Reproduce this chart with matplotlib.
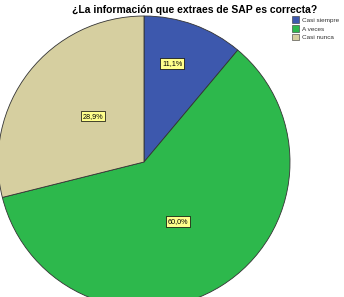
import matplotlib
matplotlib.use("Agg")
import matplotlib.pyplot as plt
import numpy as np

# Respuestas a la pregunta sobre SAP
categories = ['Casi siempre', 'A veces', 'Casi nunca']
percentages = [11.1, 60.0, 28.9]
colors = ['#3d58ad', '#2db84c', '#d6cfa0']

plt.rcParams['font.family'] = ['Liberation Sans', 'DejaVu Sans']

fig = plt.figure(figsize=(3.44, 2.97), dpi=100)
ax = fig.add_axes([0, 0, 1, 1])

wedges, texts, autotexts = ax.pie(
    percentages, colors=colors, startangle=90, counterclock=False,
    radius=1.0, autopct=lambda p: f'{p:.1f}%'.replace('.', ','),
    wedgeprops=dict(edgecolor='#333333', linewidth=0.6),
    textprops=dict(fontsize=5.2, color='black'))

# pie centred at (0, 0) with radius 1; limits map it to the reference pixels
R = 146.0
cx, cy = 144.0, 162.0
ax.set_xlim(-cx / R, (344 - cx) / R)
ax.set_ylim((cy - 297) / R, cy / R)
ax.set_aspect('equal')
ax.axis('off')

# move the value labels to where the reference puts them
label_dist = [0.70, 0.47, 0.47]
label_shift = [4, -2, -4]  # degrees, SPSS does not centre them exactly
for w, t, d, s in zip(wedges, autotexts, label_dist, label_shift):
    ang = np.deg2rad((w.theta1 + w.theta2) / 2 + s)
    t.set_position((d * np.cos(ang), d * np.sin(ang)))
    t.set_bbox(dict(boxstyle='square,pad=0.25', facecolor='#ffff8c',
                    edgecolor='black', linewidth=0.5))

fig.text(0.565, 0.968, '¿La información que extraes de SAP es correcta?',
         ha='center', va='center', fontsize=7.5, fontweight='bold')

handles = [plt.Rectangle((0, 0), 1, 1, facecolor=c, edgecolor='#333333', linewidth=0.4)
           for c in colors]
leg = fig.legend(handles, categories, loc='upper left', bbox_to_anchor=(0.848, 0.945),
                 frameon=False, fontsize=4.6, handlelength=1.2, handleheight=1.2,
                 handletextpad=0.4, labelspacing=0.35, borderpad=0, borderaxespad=0)
for t in leg.get_texts():
    t.set_color('#333333')

fig.savefig('out.png', dpi=100)
